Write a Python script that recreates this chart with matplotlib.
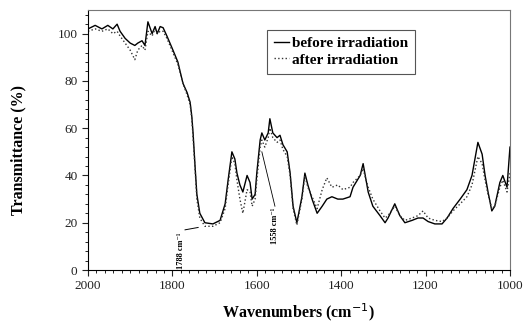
import matplotlib
matplotlib.use('Agg')
import matplotlib.pyplot as plt
from matplotlib.ticker import MultipleLocator

plt.rcParams['font.family'] = ['Liberation Serif', 'DejaVu Serif']

# wavenumbers (cm-1)
wn = [2000, 1983, 1967, 1953, 1941, 1931, 1924, 1912, 1900, 1889, 1882, 1872,
      1865, 1858, 1848, 1841, 1836, 1829, 1822, 1813, 1801, 1794, 1787, 1775,
      1765, 1758, 1754, 1751, 1746, 1742, 1735, 1723, 1704, 1687, 1675, 1668,
      1659, 1652, 1647, 1640, 1633, 1623, 1616, 1611, 1604, 1600, 1592, 1588,
      1581, 1573, 1569, 1562, 1552, 1545, 1538, 1528, 1521, 1514, 1505, 1493,
      1486, 1479, 1469, 1457, 1445, 1434, 1422, 1408, 1396, 1379, 1372, 1355,
      1348, 1344, 1336, 1325, 1308, 1296, 1289, 1273, 1261, 1249, 1232, 1218,
      1206, 1194, 1178, 1161, 1149, 1135, 1118, 1102, 1090, 1083, 1076, 1066,
      1059, 1052, 1043, 1036, 1024, 1017, 1007, 1000]

before = [102, 103.5, 102, 103.5, 102, 104, 101, 98, 96, 95, 96, 97,
          95, 105, 100, 103, 100, 103, 102.5, 99, 94, 91, 88, 79,
          75, 71, 65, 58, 43, 32, 24, 20, 19.5, 21, 28, 38,
          50, 47, 41, 36, 33, 40, 37, 30, 32, 41, 55, 58,
          55, 58, 64, 58, 56, 57, 53, 50, 41, 27, 20, 31,
          41, 36, 30, 24, 27, 30, 31, 30, 30, 31, 35, 40,
          45, 41, 33, 27, 23, 20, 22, 28, 23, 20, 21, 22,
          22, 20.5, 19.5, 19.5, 22, 26, 30, 34, 40, 47, 54, 49,
          40, 33, 25, 27, 37, 40, 35, 52]

after = [101, 102, 101, 102, 100, 101, 99, 96, 93, 89, 93, 95,
         93, 101, 99, 102, 100, 101, 101, 98, 93, 90, 87, 79,
         74, 70, 64, 56, 42, 30, 22, 18.5, 18.5, 20, 26, 36,
         48, 45, 38, 30, 24, 34, 33, 27, 30, 38, 52, 55,
         52, 56, 60, 56, 54, 55, 51, 48, 40, 26, 19, 30,
         40, 35, 31, 26, 34, 39, 35, 36, 34, 35, 37, 40,
         43, 40, 35, 30, 25, 22, 23, 27, 23, 21, 22, 23,
         25, 22, 21, 20.5, 22, 25, 28, 31, 36, 42, 48, 45,
         38, 32, 26, 27, 35, 38, 33, 41]

fig = plt.figure(figsize=(5.32, 3.29), dpi=100)
ax = fig.add_axes([0.1654, 0.1793, 0.7932, 0.7903])

ax.plot(wn, before, color='black', lw=1.0, label='before irradiation')
ax.plot(wn, after, color='#333333', lw=1.0, ls=':', label='after irradiation')

# peak marks
ax.text(1779, 0.5, '1788 cm\u207b\u00b9', rotation=90, fontsize=6,
        fontweight='bold', ha='center', va='bottom')
ax.plot([1770, 1739], [17, 18], color='black', lw=0.7)
ax.text(1557, 11, '1558 cm\u207b\u00b9', rotation=90, fontsize=6,
        fontweight='bold', ha='center', va='bottom')
ax.plot([1557, 1588], [27, 50], color='black', lw=0.6)

ax.set_xlim(2000, 1000)
ax.set_ylim(0, 110)
ax.set_xticks([2000, 1800, 1600, 1400, 1200, 1000])
ax.set_yticks([0, 20, 40, 60, 80, 100])
ax.xaxis.set_minor_locator(MultipleLocator(20))
ax.yaxis.set_minor_locator(MultipleLocator(4))
ax.tick_params(which='major', direction='out', length=4, width=0.8,
               labelsize=9.5, colors='#222222')
ax.tick_params(which='minor', direction='out', length=2.5, width=0.6)
ax.tick_params(top=False, right=False)
for s in ['top', 'right']:
    ax.spines[s].set_color('#777777')
    ax.spines[s].set_linewidth(0.8)

ax.set_xlabel('Wavenumbers (cm$^{-1}$)', fontsize=11.5, fontweight='bold',
              labelpad=6)
ax.set_ylabel('Transmittance (%)', fontsize=11.5, fontweight='bold')
ax.yaxis.set_label_coords(-0.147, 0.46)

leg = ax.legend(loc='upper left', bbox_to_anchor=(0.424, 0.925),
                borderaxespad=0,
                prop={'weight': 'bold', 'size': 11}, handlelength=1.0,
                handletextpad=0.2, borderpad=0.45, labelspacing=0.2,
                fancybox=False, edgecolor='#555555', framealpha=1)
leg.get_frame().set_linewidth(0.8)

fig.savefig('out.png', dpi=100)
